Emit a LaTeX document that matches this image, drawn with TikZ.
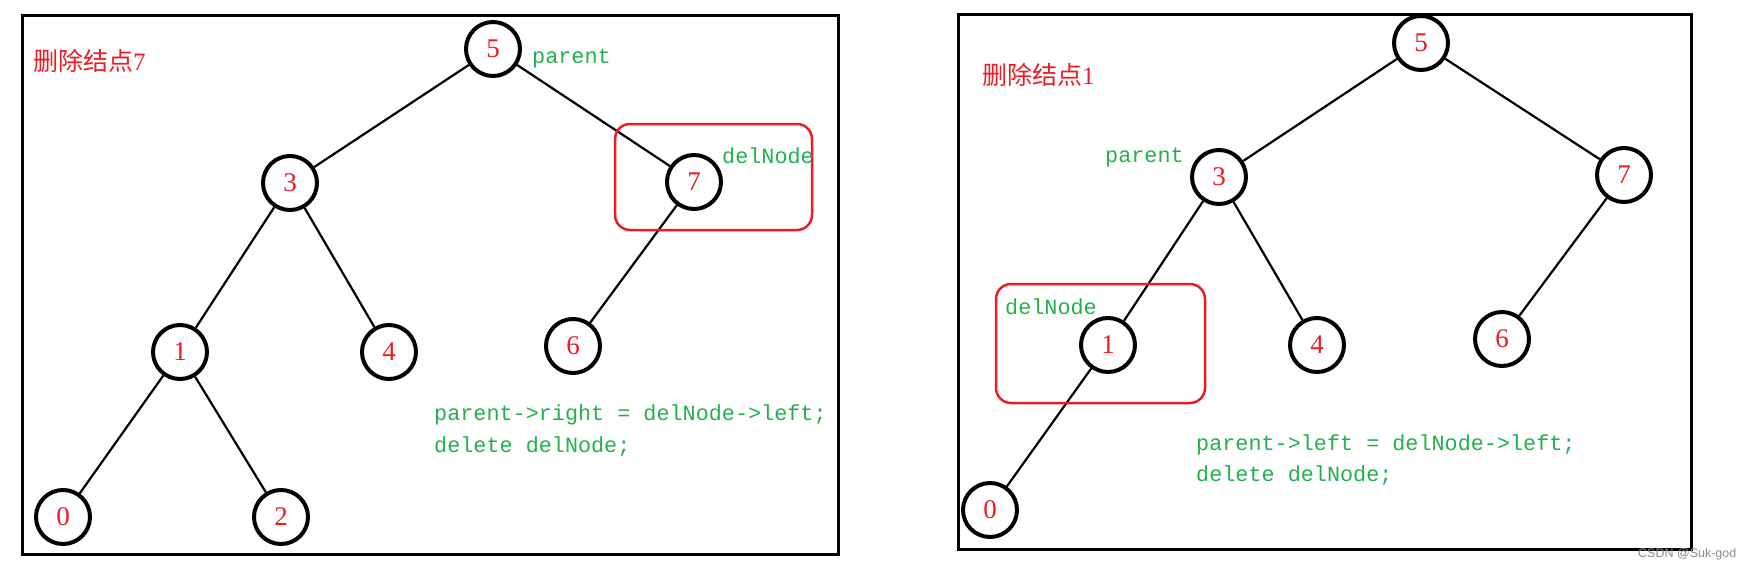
\documentclass[tikz,border=0pt]{standalone}
\usepackage{fontspec}
\setmainfont{Liberation Serif}
\newfontfamily\cjkfont{Noto Sans CJK SC}
\newfontfamily\codefont{Liberation Mono}
\newfontfamily\wmfont{Liberation Sans}
\definecolor{pred}{RGB}{237,28,36}
\definecolor{pgreen}{RGB}{34,177,76}
\definecolor{wmgray}{RGB}{140,140,140}
\begin{document}
\begin{tikzpicture}[x=1pt,y=-1pt,
  treenode/.style={circle,draw=black,line width=4pt,minimum size=54pt,inner sep=0pt,fill=white,text=pred,font=\fontsize{27}{27}\selectfont},
  treeedge/.style={line width=2.2pt,black},
  frameline/.style={line width=3pt,black},
  selbox/.style={draw=pred,line width=2.5pt,rounded corners=15pt},
  codetxt/.style={text=pgreen,font=\codefont\fontsize{21.8}{21.8}\selectfont,inner sep=0pt,anchor=base west},
  titletxt/.style={text=pred,font=\fontsize{25}{25}\selectfont,inner sep=0pt,anchor=west},
  wmtxt/.style={text=wmgray,font=\wmfont\fontsize{12.5}{12.5}\selectfont,inner sep=0pt,anchor=west}]
\useasboundingbox (0,0) rectangle (1749,570);

% ---------- left panel ----------
\draw[frameline] (22,15) rectangle (838,554);
\node[titletxt] (lt) at (33,61) {{\cjkfont 删除结点}7};
\node[treenode] (l5) at (493,49) {5};
\node[treenode] (l3) at (290,183) {3};
\node[treenode] (l7) at (694,182) {7};
\node[treenode] (l1) at (180,352) {1};
\node[treenode] (l4) at (389,352) {4};
\node[treenode] (l6) at (573,346) {6};
\node[treenode] (l0) at (63,517) {0};
\node[treenode] (l2) at (281,517) {2};
\draw[treeedge] (l5) -- (l3);
\draw[treeedge] (l5) -- (l7);
\draw[treeedge] (l3) -- (l1);
\draw[treeedge] (l3) -- (l4);
\draw[treeedge] (l7) -- (l6);
\draw[treeedge] (l1) -- (l0);
\draw[treeedge] (l1) -- (l2);
\draw[selbox] (615,124) rectangle (812,230);
\node[codetxt] (lpar) at (532,63) {parent};
\node[codetxt] (ldel) at (722,163) {delNode};
\node[codetxt] (lc1) at (434,420) {parent->right = delNode->left;};
\node[codetxt] (lc2) at (434,452) {delete delNode;};

% ---------- right panel ----------
\draw[frameline] (958,14) rectangle (1691,549);
\node[titletxt] (rt) at (982,75) {{\cjkfont 删除结点}1};
\node[treenode] (r5) at (1421,43) {5};
\node[treenode] (r3) at (1219,177) {3};
\node[treenode] (r7) at (1624,175) {7};
\node[treenode] (r1) at (1108,345) {1};
\node[treenode] (r4) at (1317,345) {4};
\node[treenode] (r6) at (1502,339) {6};
\node[treenode] (r0) at (990,510) {0};
\draw[treeedge] (r5) -- (r3);
\draw[treeedge] (r5) -- (r7);
\draw[treeedge] (r3) -- (r1);
\draw[treeedge] (r3) -- (r4);
\draw[treeedge] (r7) -- (r6);
\draw[treeedge] (r1) -- (r0);
\draw[selbox] (996,284) rectangle (1205,403);
\node[codetxt] (rpar) at (1105,162) {parent};
\node[codetxt] (rdel) at (1005,314) {delNode};
\node[codetxt] (rc1) at (1196,450) {parent->left = delNode->left;};
\node[codetxt] (rc2) at (1196,481) {delete delNode;};

\node[wmtxt] (wm) at (1638,554) {CSDN @Suk-god};
\end{tikzpicture}
\end{document}
